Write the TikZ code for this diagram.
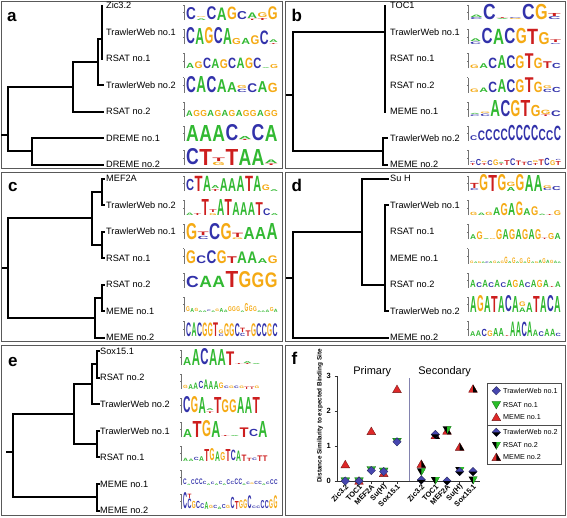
\documentclass[tikz,border=0pt]{standalone}
\usepackage{fontspec}
\setmainfont{Liberation Sans}
\usepackage{graphicx}
\definecolor{lgA}{RGB}{50,185,50}
\definecolor{lgC}{RGB}{50,50,170}
\definecolor{lgG}{RGB}{245,170,20}
\definecolor{lgT}{RGB}{205,30,30}
\definecolor{mkblue}{RGB}{70,70,175}
\definecolor{mkgreen}{RGB}{40,190,40}
\definecolor{mkred}{RGB}{222,40,40}
\definecolor{divcol}{RGB}{130,130,175}
\tikzset{
 tree/.style={line width=2pt, line cap=rect, line join=miter},
 leaf/.style={anchor=west, inner sep=0pt, font=\fontsize{9.2}{10}\selectfont},
 panel/.style={draw=black!65, line width=0.8pt},
 plabel/.style={anchor=base west, inner sep=0pt, font=\fontsize{17}{17}\selectfont\bfseries},
 lgnode/.style={anchor=south west, inner sep=0pt, outer sep=0pt},
 logoaxis/.style={draw=black!55, line width=0.35pt},
 fax/.style={draw=black!80, line width=0.6pt},
 ytick/.style={anchor=east, inner sep=0pt, font=\fontsize{7.5}{7.5}\selectfont\bfseries},
 cat/.style={anchor=east, rotate=47, inner sep=0.3pt, font=\fontsize{7.4}{7.5}\selectfont\bfseries},
 legtxt/.style={anchor=west, inner sep=0pt, font=\fontsize{7.2}{8}\selectfont},
 mkdstyle/.style={fill=mkblue, draw=mkblue!50!black, line width=0.3pt},
 mkvstyle/.style={fill=mkgreen, draw=mkgreen!50!black, line width=0.3pt},
 mkustyle/.style={fill=mkred, draw=mkred!50!black, line width=0.3pt},
}
% sequence logo: x0, baseline, column width, list letter/height
\newcommand\slogo[4]{%
  \draw[logoaxis] ({#1-2},{#2}) -- ({#1-2},{#2-15});
  \draw[logoaxis] ({#1-3},{#2-7.5}) -- ({#1-2},{#2-7.5});
  \draw[logoaxis] ({#1-3},{#2-15}) -- ({#1-2},{#2-15});
  \pgfmathsetlengthmacro\lgW{#3-0.4}%
  \foreach \lgl/\lgh [count=\lgc] in {#4}{%
    \pgfmathsetlengthmacro\lgH{max(\lgh*16,0.8)}%
    \node[lgnode] at ({#1+(\lgc-1)*#3+0.2},{#2}) {\resizebox{\lgW}{\lgH}{\textcolor{lg\lgl}{\bfseries\lgl}}};
  }%
}
% extra stacked letters: x0, baseline, column width, list col/letter/height/offset
\newcommand\xlogo[4]{%
  \pgfmathsetlengthmacro\lgW{#3-0.4}%
  \foreach \lgc/\lgl/\lgh/\lgo in {#4}{%
    \pgfmathsetlengthmacro\lgH{max(\lgh*16-0.5,0.8)}%
    \node[lgnode] at ({#1+(\lgc-1)*#3+0.2},{#2-max(\lgo*16,0.8)-0.5}) {\resizebox{\lgW}{\lgH}{\textcolor{lg\lgl}{\bfseries\lgl}}};
  }%
}
\newcommand\yv[1]{481-35*#1}
\newcommand\mkD[2]{\filldraw[mkdstyle] ({#1},{#2-4.2}) -- ({#1+4.2},{#2}) -- ({#1},{#2+4.2}) -- ({#1-4.2},{#2}) -- cycle;}
\newcommand\mkDD[2]{\mkD{#1}{#2}\fill[black] ({#1-4.2},{#2}) -- ({#1+4.2},{#2}) -- ({#1},{#2+4.2}) -- cycle;}
\newcommand\mkV[2]{\filldraw[mkvstyle] ({#1-4.4},{#2-3.3}) -- ({#1+4.4},{#2-3.3}) -- ({#1},{#2+4.3}) -- cycle;}
\newcommand\mkVV[2]{\fill[black] ({#1-4.4},{#2-3.3}) -- ({#1+4.4},{#2-3.3}) -- ({#1},{#2+4.3}) -- cycle;\fill[mkgreen] ({#1},{#2-3.3}) -- ({#1+4.4},{#2-3.3}) -- ({#1},{#2+4.3}) -- cycle;}
\newcommand\mkU[2]{\filldraw[mkustyle] ({#1-4.4},{#2+3.3}) -- ({#1+4.4},{#2+3.3}) -- ({#1},{#2-4.3}) -- cycle;}
\newcommand\mkUU[2]{\mkU{#1}{#2}\fill[black] ({#1},{#2+3.3}) -- ({#1+4.4},{#2+3.3}) -- ({#1},{#2-4.3}) -- cycle;}
\begin{document}
\begin{tikzpicture}[x=1pt,y=-1pt]
\useasboundingbox (0,0) rectangle (567,517);
\fill[white] (0,0) rectangle (567,517);
% panels
\draw[panel] (1.5,1.5) rectangle (282,168.5);
\draw[panel] (285.5,1.5) rectangle (565.5,168.5);
\draw[panel] (1.5,172) rectangle (282,341.5);
\draw[panel] (285.5,172) rectangle (565.5,341.5);
\draw[panel] (1.5,345) rectangle (282,515.5);
\draw[panel] (285.5,345) rectangle (565.5,515.5);
\node[plabel] (pa) at (7,21.7) {a};
\node[plabel] (pb) at (291.3,21.7) {b};
\node[plabel] (pc) at (8,191.7) {c};
\node[plabel] (pd) at (291.3,191.7) {d};
\node[plabel] (pe) at (8,366.3) {e};
\node[plabel] (pf) at (291.3,364.7) {f};

% ---------------- panel a ----------------
\node[leaf] (a1) at (106,5.5) {Zic3.2};
\node[leaf] (a2) at (106,32) {TrawlerWeb no.1};
\node[leaf] (a3) at (106,58.5) {RSAT no.1};
\node[leaf] (a4) at (106,85) {TrawlerWeb no.2};
\node[leaf] (a5) at (106,111.5) {RSAT no.2};
\node[leaf] (a6) at (106,138) {DREME no.1};
\node[leaf] (a7) at (106,164.5) {DREME no.2};
\draw[tree] (101.7,5.5) -- (101.7,58.5);
\draw[tree] (97.7,38.6) -- (101.7,38.6);
\draw[tree] (97.7,38.6) -- (97.7,85) -- (103,85);
\draw[tree] (72.7,61.8) -- (97.7,61.8);
\draw[tree] (72.7,61.8) -- (72.7,111.5) -- (103,111.5);
\draw[tree] (8.3,86.7) -- (72.7,86.7);
\draw[tree] (8.3,86.7) -- (8.3,151.25) -- (32.3,151.25);
\draw[tree] (103,138) -- (32.3,138) -- (32.3,164.5) -- (103,164.5);
\draw[tree] (2,135) -- (8.3,135);
\slogo{186}{20}{10.2}{C/.75, A/.1, C/.8, A/.78, G/.78, C/.5, T/.08, T/.12, G/.8}
\xlogo{186}{20}{10.2}{2/G/.08/.1, 7/A/.38/.08, 8/G/.33/.12}
\slogo{186}{44.2}{9.2}{C/1, A/1, G/1, C/1, A/1, G/.38, A/.38, G/.55, C/.85, T/.06}
\xlogo{186}{44.2}{9.2}{10/A/.2/.06}
\slogo{186}{68.4}{8.4}{A/.32, G/.42, C/.65, A/.58, G/.55, C/.65, A/.65, G/.65, C/.65, A/.05, G/.25}
\slogo{186}{92.6}{10.2}{C/1, A/1, C/1, A/.8, A/.62, C/.2, C/.55, A/.68, G/.58}
\xlogo{186}{92.6}{10.2}{6/G/.22/.2}
\slogo{186}{116.8}{7.08}{A/.35, G/.38, G/.38, A/.38, G/.38, A/.38, G/.38, A/.38, G/.38, G/.38, A/.38, G/.38, G/.38}
\slogo{186}{141}{13.1}{A/1, A/1, A/1, C/1, T/.06, C/1, A/1}
\xlogo{186}{141}{13.1}{5/A/.22/.06}
\slogo{186}{165.2}{13.1}{C/1, T/1, G/.2, T/1, A/1, A/1, T/.1}
\xlogo{186}{165.2}{13.1}{3/T/.25/.2, 7/A/.25/.1}

% ---------------- panel b ----------------
\node[leaf] (b1) at (390,5.5) {TOC1};
\node[leaf] (b2) at (390,32) {TrawlerWeb no.1};
\node[leaf] (b3) at (390,58.5) {RSAT no.1};
\node[leaf] (b4) at (390,85) {RSAT no.2};
\node[leaf] (b5) at (390,111.5) {MEME no.1};
\node[leaf] (b6) at (390,138) {TrawlerWeb no.2};
\node[leaf] (b7) at (390,164.5) {MEME no.2};
\draw[tree] (384.7,5.5) -- (384.7,111.5);
\draw[tree] (293,32) -- (384.7,32);
\draw[tree] (293,32) -- (293,151.25) -- (383,151.25);
\draw[tree] (387,138) -- (383,138) -- (383,164.5) -- (387,164.5);
\draw[tree] (286.5,95) -- (293,95);
\slogo{470}{20}{13}{C/.12, C/.95, A/.06, G/.06, C/.95, G/.95, C/.18}
\xlogo{470}{20}{13}{1/A/.18/.12, 3/T/.06/.06, 4/C/.06/.06, 7/T/.22/.18}
\slogo{470}{44.2}{11.4}{C/.15, C/.95, A/.95, C/.95, G/.95, T/.95, G/.75, C/.06}
\xlogo{470}{44.2}{11.4}{1/A/.2/.15, 8/T/.2/.06}
\slogo{470}{68.4}{9.1}{G/.22, A/.3, C/.65, A/.8, C/.8, G/.8, T/.92, G/.65, T/.42, C/.32}
\slogo{470}{92.6}{9.1}{G/.22, A/.28, C/.65, A/.8, C/.8, G/.8, T/.92, G/.65, C/.2, C/.32}
\xlogo{470}{92.6}{9.1}{9/G/.2/.2}
\slogo{470}{116.8}{10.1}{C/.1, C/.15, A/1, C/1, G/1, T/1, G/.7, T/.1, C/.35}
\xlogo{470}{116.8}{10.1}{1/A/.1/.1, 2/G/.12/.15, 8/G/.3/.1}
\slogo{470}{141}{7.6}{C/.3, C/.6, C/.68, C/.68, C/.72, C/.95, C/.95, C/.95, C/.95, C/.7, C/.62, C/.9}
\slogo{470}{165.2}{5.7}{T/.12, C/.38, T/.12, C/.3, G/.35, T/.1, T/.3, C/.42, T/.28, T/.2, C/.25, T/.12, T/.35, C/.45, G/.3, T/.25}
\xlogo{470}{165.2}{5.7}{1/C/.1/.12, 3/G/.1/.12, 6/A/.1/.1, 12/G/.15/.12, 16/C/.1/.25}

% ---------------- panel c ----------------
\node[leaf] (c1) at (106,178.5) {MEF2A};
\node[leaf] (c2) at (106,205) {TrawlerWeb no.2};
\node[leaf] (c3) at (106,231.5) {TrawlerWeb no.1};
\node[leaf] (c4) at (106,258) {RSAT no.1};
\node[leaf] (c5) at (106,284.5) {RSAT no.2};
\node[leaf] (c6) at (106,311) {MEME no.1};
\node[leaf] (c7) at (106,337.5) {MEME no.2};
\draw[tree] (104,178.5) -- (101.7,178.5) -- (101.7,205) -- (104,205);
\draw[tree] (91.7,191.75) -- (101.7,191.75);
\draw[tree] (104,231.5) -- (101.7,231.5) -- (101.7,258) -- (104,258);
\draw[tree] (91.7,244.75) -- (101.7,244.75);
\draw[tree] (91.7,191.75) -- (91.7,244.75);
\draw[tree] (8.3,218.25) -- (91.7,218.25);
\draw[tree] (104,284.5) -- (101.7,284.5) -- (101.7,311) -- (104,311);
\draw[tree] (95,297.75) -- (101.7,297.75);
\draw[tree] (95,297.75) -- (95,337.5) -- (104,337.5);
\draw[tree] (8.3,317.6) -- (95,317.6);
\draw[tree] (8.3,218.25) -- (8.3,317.6);
\draw[tree] (3,268) -- (8.3,268);
\slogo{186}{191}{8.4}{C/.7, T/.95, A/.95, T/.12, A/.8, A/.8, A/.95, T/.95, A/.95, G/.35, A/.12}
\xlogo{186}{191}{8.4}{4/A/.22/.12}
\slogo{186}{215.2}{7.7}{A/.15, T/.12, T/1, G/.12, A/1, T/1, A/.8, A/.8, A/.8, T/.8, C/.42, A/.12}
\xlogo{186}{215.2}{7.7}{4/T/.2/.12}
\slogo{186}{239.4}{11.5}{G/1, C/.2, C/1, G/1, G/.1, A/.75, A/.75, A/1}
\xlogo{186}{239.4}{11.5}{2/T/.25/.2, 5/T/.3/.1}
\slogo{186}{263.6}{10.2}{G/.8, C/.48, C/.8, G/.8, T/.42, A/.72, A/.72, A/.3, G/.48}
\slogo{186}{287.8}{13.1}{C/.7, A/.7, A/.7, T/1, G/1, G/.92, G/.92}
\slogo{186}{312}{4.18}{G/.3, A/.25, G/.2, A/.1, A/.1, C/.1, A/.1, G/.15, A/.25, A/.15, G/.3, G/.3, G/.3, A/.1, G/.5, G/.35, G/.3, A/.1, A/.1, A/.15, G/.25, A/.2}
\slogo{186}{336.2}{5.4}{C/.85, A/.85, C/.85, G/.85, G/.85, T/.85, C/.15, G/.8, G/.8, C/.8, C/.2, T/.35, G/.8, C/.8, C/.8, G/.8, C/.8}
\xlogo{186}{336.2}{5.4}{7/G/.25/.15, 11/T/.3/.2}

% ---------------- panel d ----------------
\node[leaf] (d1) at (390,178.5) {Su H};
\node[leaf] (d2) at (390,205) {TrawlerWeb no.1};
\node[leaf] (d3) at (390,231.5) {RSAT no.1};
\node[leaf] (d4) at (390,258) {MEME no.1};
\node[leaf] (d5) at (390,284.5) {RSAT no.2};
\node[leaf] (d6) at (390,311) {TrawlerWeb no.2};
\node[leaf] (d7) at (390,337.5) {MEME no.2};
\draw[tree] (388,178.5) -- (362,178.5) -- (362,285) -- (384.7,285);
\draw[tree] (388,205) -- (384.7,205) -- (384.7,311) -- (388,311);
\draw[tree] (293,231.75) -- (362,231.75);
\draw[tree] (293,231.75) -- (293,337.5) -- (388,337.5);
\draw[tree] (286.5,278) -- (293,278);
\slogo{470}{191}{9.1}{C/.12, G/1, T/1, G/1, A/.25, G/1, A/1, A/1, C/.15, C/.25}
\xlogo{470}{191}{9.1}{1/T/.35/.12, 5/G/.3/.25, 9/G/.2/.15}
\slogo{470}{215.2}{7.6}{G/.2, A/.15, G/.2, A/.48, G/.75, A/.75, G/.85, A/.42, G/.55, A/.08, T/.06, G/.3}
\slogo{470}{239.4}{6.5}{A/.3, G/.48, A/.06, G/.06, G/.62, A/.62, G/.62, A/.62, G/.62, A/.62, G/.62, T/.08, G/.38, A/.38}
\slogo{470}{263.6}{3.8}{G/.15, A/.1, G/.12, A/.1, C/.1, A/.12, G/.15, A/.1, G/.15, G/.4, A/.12, G/.35, A/.1, G/.3, A/.1, G/.35, A/.1, G/.12, A/.2, G/.3, A/.2, G/.2, A/.15, A/.1}
\slogo{470}{287.8}{6.07}{A/.45, C/.3, A/.45, C/.3, A/.45, C/.3, A/.45, G/.45, A/.45, C/.3, A/.45, G/.45, A/.45, T/.06, A/.35}
\slogo{470}{312}{7}{A/1, G/1, A/1, T/1, A/1, C/1, A/1, A/.28, A/.6, T/1, A/1, C/1, A/1}
\xlogo{470}{312}{7}{8/G/.32/.28}
\slogo{470}{336.2}{5.7}{A/.3, A/.35, C/.45, G/.35, A/.5, A/.5, T/.06, A/.9, A/.9, C/.9, A/.9, A/.4, C/.3, A/.45, A/.45, C/.2}

% ---------------- panel e ----------------
\node[leaf] (e1) at (100,351) {Sox15.1};
\node[leaf] (e2) at (100,377.6) {RSAT no.2};
\node[leaf] (e3) at (100,404.2) {TrawlerWeb no.2};
\node[leaf] (e4) at (100,430.8) {TrawlerWeb no.1};
\node[leaf] (e5) at (100,457.4) {RSAT no.1};
\node[leaf] (e6) at (100,484) {MEME no.1};
\node[leaf] (e7) at (100,510.6) {MEME no.2};
\draw[tree] (99,351) -- (96.7,351) -- (96.7,377.6) -- (99,377.6);
\draw[tree] (91.7,364.3) -- (96.7,364.3);
\draw[tree] (91.7,364.3) -- (91.7,404.2) -- (99,404.2);
\draw[tree] (74,384.25) -- (91.7,384.25);
\draw[tree] (99,430.8) -- (96.7,430.8) -- (96.7,457.4) -- (99,457.4);
\draw[tree] (74,444.1) -- (96.7,444.1);
\draw[tree] (74,384.25) -- (74,444.1);
\draw[tree] (13.3,414.2) -- (74,414.2);
\draw[tree] (99,484) -- (96.7,484) -- (96.7,510.6) -- (99,510.6);
\draw[tree] (13.3,497.3) -- (96.7,497.3);
\draw[tree] (13.3,414.2) -- (13.3,497.3);
\draw[tree] (7.3,452) -- (13.3,452);
\slogo{183}{365}{8.6}{A/.5, A/1, C/1, A/1, A/1, T/.85, T/.06, T/.06, A/.06}
\xlogo{183}{365}{8.6}{8/A/.15/.06}
\slogo{183}{389}{5.1}{G/.2, A/.3, A/.4, C/.45, A/.6, A/.5, A/.5, G/.35, C/.15, G/.15, C/.15, G/.15, T/.15, T/.15, G/.15}
\slogo{183}{413}{7.7}{C/1, G/1, A/1, T/.1, T/1, G/.8, G/.8, A/1, A/1, T/1}
\xlogo{183}{413}{7.7}{4/A/.15/.1}
\slogo{183}{437}{9.4}{A/.5, T/1, G/1, A/1, T/.06, A/.06, T/.6, C/.45, A/1}
\slogo{183}{461}{5.3}{A/.2, A/.15, C/.2, A/.3, T/.75, G/.75, A/.6, G/.5, T/.75, C/.65, A/.65, T/.4, T/.2, C/.15, T/.35, T/.35}
\slogo{183}{485}{3.95}{C/.35, A/.08, C/.3, C/.35, C/.35, C/.2, A/.1, C/.15, A/.1, C/.2, A/.1, C/.3, C/.2, C/.35, C/.35, A/.1, C/.15, G/.1, C/.2, C/.2, A/.1, C/.15, C/.3, C/.3}
\slogo{183}{509}{4.3}{C/1, C/.6, G/.45, C/.45, C/.3, A/.45, G/.2, C/.2, A/.15, C/.25, G/.2, C/.7, T/.5, G/.5, G/.55, C/.8, C/.15, C/.15, C/.5, C/.5, G/.55, G/.8}
\xlogo{183}{509}{4.3}{2/T/.3/.6}

% ---------------- panel f ----------------
\node[rotate=90, inner sep=0pt, font=\fontsize{6.4}{7}\selectfont\bfseries] (ylab) at (320,416) {Distance Similarity to expected Binding Site};
\node[inner sep=0pt, font=\fontsize{11}{12}\selectfont] (prim) at (372.3,371.3) {Primary};
\node[inner sep=0pt, font=\fontsize{11}{12}\selectfont] (sec) at (444.7,371.3) {Secondary};
\draw[divcol, line width=0.7pt] (409.7,378) -- (409.7,481);
\draw[fax] (337,376) -- (337,481) -- (480,481);
\foreach \v in {0,1,2,3}{
  \draw[fax] (334.5,{481-35*\v}) -- (337,{481-35*\v});
  \node[ytick] (yt\v) at (331,{481-35*\v}) {\v};
}
\foreach \x in {345.3,359,371.3,383.7,397,421.3,435.3,447,459.7,473}
  \draw[fax] (\x,481) -- (\x,483.5);
\foreach \x/\t [count=\i] in {345.3/Zic3.2, 359/TOC1, 371.3/MEF2A, 383.7/{Su(H)}, 397/Sox15.1, 421.3/Zic3.2, 435.3/TOC1, 447/MEF2A, 459.7/{Su(H)}, 473/Sox15.1}
  \node[cat] (cat\i) at ({\x+2},485) {\t};
% primary data
\mkU{345.3}{\yv{0.47}} \mkV{345.3}{\yv{0}} \mkD{345.3}{\yv{0}}
\mkU{359}{\yv{0}} \mkV{359}{\yv{0}} \mkD{359}{\yv{0}}
\mkU{371.3}{\yv{1.42}} \mkV{371.3}{\yv{0.32}} \mkD{371.3}{\yv{0.3}}
\mkU{383.7}{\yv{0.22}} \mkV{383.7}{\yv{0.28}} \mkD{383.7}{\yv{0.27}}
\mkU{397}{\yv{2.62}} \mkV{397}{\yv{1.13}} \mkD{397}{\yv{1.12}}
% secondary data
\mkUU{421.3}{\yv{0.48}} \mkVV{421.3}{\yv{0.27}} \mkDD{421.3}{\yv{0.03}}
\mkUU{435.3}{\yv{1.3}} \mkVV{435.3}{\yv{0.02}} \mkDD{435.3}{\yv{1.33}}
\mkUU{447}{\yv{1.43}} \mkVV{447}{\yv{1.47}} \mkDD{447}{\yv{0}}
\mkUU{459.7}{\yv{0.97}} \mkVV{459.7}{\yv{0.3}} \mkDD{459.7}{\yv{0.27}}
\mkUU{473}{\yv{2.63}} \mkVV{473}{\yv{0.03}} \mkDD{473}{\yv{0.27}}
% legend
\draw[draw=black!70, line width=0.6pt] (487,383) rectangle (561.3,464);
\draw[draw=black!70, line width=0.6pt] (487,425.3) -- (561.3,425.3);
\mkD{496.3}{390.7} \node[legtxt] (l1) at (503,390.7) {TrawlerWeb no.1};
\mkV{496.3}{404.7} \node[legtxt] (l2) at (503,404.7) {RSAT no.1};
\mkU{496.3}{417.3} \node[legtxt] (l3) at (503,417.3) {MEME no.1};
\mkDD{496.3}{432.3} \node[legtxt] (l4) at (503,432.3) {TrawlerWeb no.2};
\mkVV{496.3}{445.3} \node[legtxt] (l5) at (503,445.3) {RSAT no.2};
\mkUU{496.3}{457.3} \node[legtxt] (l6) at (503,457.3) {MEME no.2};
\end{tikzpicture}
\end{document}
